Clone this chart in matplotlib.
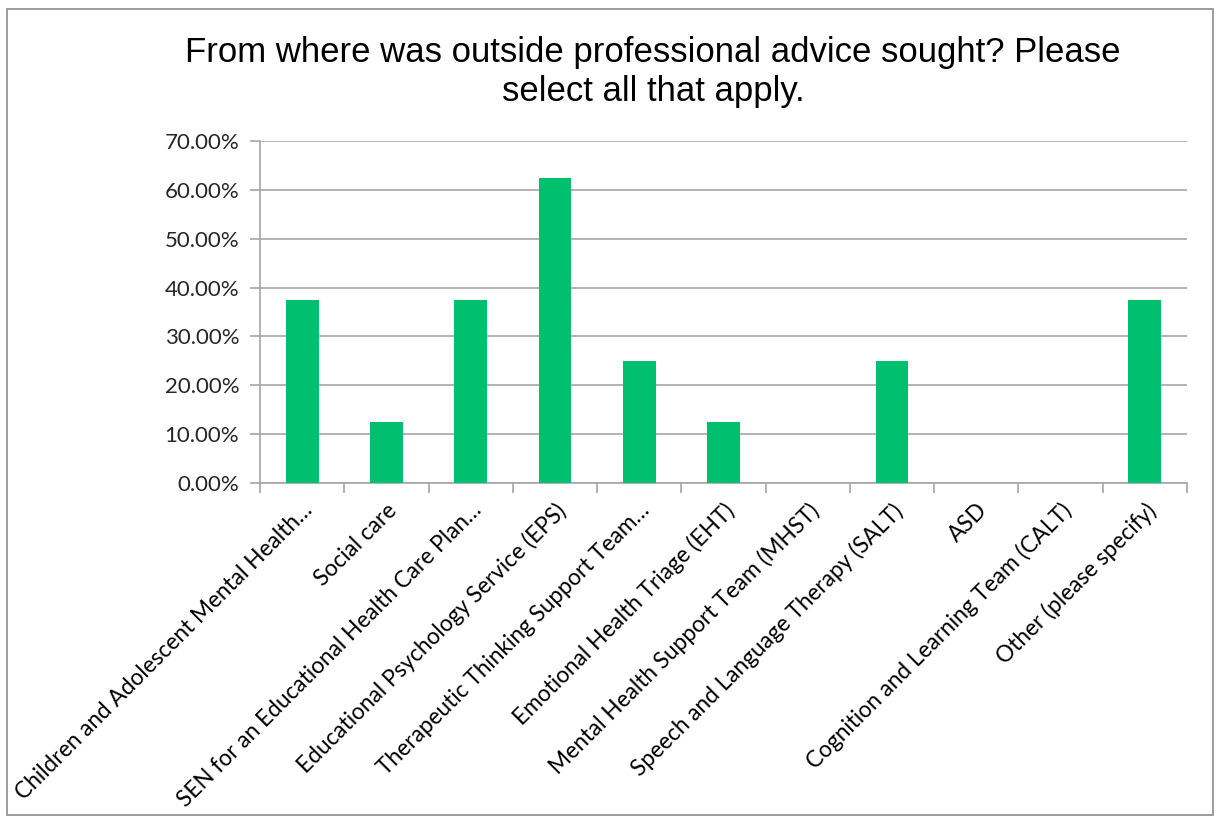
import matplotlib
matplotlib.use("Agg")
import matplotlib.pyplot as plt
from matplotlib.patches import Rectangle
from matplotlib.ticker import FuncFormatter, MultipleLocator

categories = [
    "Children and Adolescent Mental Health…",
    "Social care",
    "SEN for an Educational Health Care Plan…",
    "Educational Psychology Service (EPS)",
    "Therapeutic Thinking Support Team…",
    "Emotional Health Triage (EHT)",
    "Mental Health Support Team (MHST)",
    "Speech and Language Therapy (SALT)",
    "ASD",
    "Cognition and Learning Team (CALT)",
    "Other (please specify)",
]
values = [0.375, 0.125, 0.375, 0.625, 0.25, 0.125, 0.0, 0.25, 0.0, 0.0, 0.375]
title = "From where was outside professional advice sought? Please\nselect all that apply."

W, H = 1216, 821
fig = plt.figure(figsize=(W / 100, H / 100), dpi=100)
fig.patches.append(Rectangle((7 / W, 1 - 815 / H), (1213 - 7) / W, (815 - 9) / H,
                             transform=fig.transFigure, fill=False,
                             edgecolor="#8c8c8c", linewidth=1.2))

left, right, top, bottom = 260, 1187, 141, 483
ax = fig.add_axes([left / W, 1 - bottom / H, (right - left) / W, (bottom - top) / H])

x = list(range(len(categories)))
ax.bar(x, values, width=0.39, color="#00BF6F", zorder=3)
ax.set_xlim(-0.5, len(categories) - 0.5)
ax.set_ylim(0, 0.70)
ax.yaxis.set_major_locator(MultipleLocator(0.10))
ax.yaxis.set_major_formatter(FuncFormatter(lambda v, p: f"{v*100:.2f}%"))
ax.grid(axis="y", color="#a6a6a6", linewidth=1.2, zorder=0)
for s in ["top", "right"]:
    ax.spines[s].set_visible(False)
for s in ["left", "bottom"]:
    ax.spines[s].set_color("#a6a6a6")
    ax.spines[s].set_linewidth(1.2)

ax.set_xticks([i - 0.5 for i in range(len(categories) + 1)], minor=False)
ax.set_xticklabels([])
ax.set_xticks(x, minor=True)
ax.set_xticklabels(categories, minor=True, rotation=45, ha="right", va="top",
                   rotation_mode="anchor", fontsize=16.3, family="Lato", color="#000000")
ax.tick_params(axis="x", which="minor", length=0, pad=12)
ax.tick_params(axis="x", which="major", length=7, color="#a6a6a6", width=1.2)
ax.tick_params(axis="y", length=7, color="#a6a6a6", width=1.2, labelsize=16, pad=8)
for lbl in ax.get_yticklabels():
    lbl.set_family("Lato")
    lbl.set_color("#262626")

fig.text(653 / W, 1 - 72 / H, title, ha="center", va="center", fontsize=25,
         family="Liberation Sans", color="#000000", linespacing=1.22)

fig.savefig("out.png", dpi=100)
